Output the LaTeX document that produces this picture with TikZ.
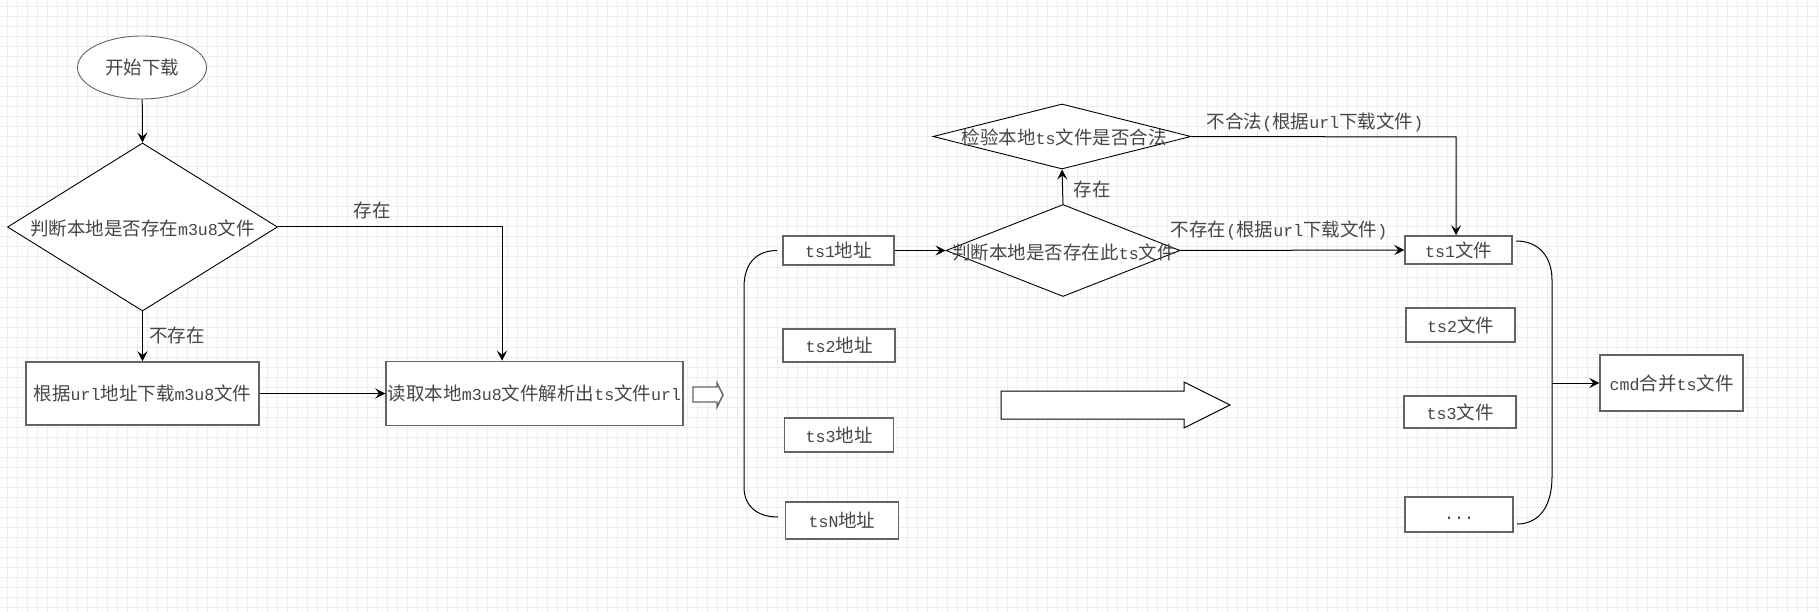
\documentclass[tikz,border=0pt]{standalone}
\usepackage{fontspec}
\setmainfont{Noto Sans CJK SC}
\newfontfamily\latf{Liberation Mono}[Scale=0.9]
\newcommand\la[1]{{\latf #1}}
\usetikzlibrary{shapes.geometric,arrows.meta}
\definecolor{txt}{RGB}{70,70,70}
\definecolor{gridc}{RGB}{238,238,238}
\definecolor{boxc}{RGB}{100,100,100}
\begin{document}
\begin{tikzpicture}[x=1pt,y=-1pt,
  every node/.style={font=\fontsize{18.5}{22}\selectfont, text=txt},
  box/.style={draw=boxc, line width=1.5pt, fill=white, inner sep=0pt, rectangle},
  dia/.style={draw=black, line width=0.9pt, fill=white, diamond, inner sep=0pt},
  ell/.style={draw=boxc, line width=0.9pt, fill=white, ellipse, inner sep=0pt},
  lbl/.style={inner sep=0pt},
  arr/.style={draw=black, line width=1pt, -{Stealth[length=10pt,width=10pt,inset=4pt]}},
  brk/.style={draw=black, line width=1pt},
  hollow/.style={fill=white, line width=1pt, line join=miter}
]
\fill[white] (0,0) rectangle (1819,612);
\useasboundingbox (0,0) rectangle (1819,612);
\foreach \x in {7,17,...,1817} \draw[gridc, line width=1pt] (\x,0) -- (\x,612);
\foreach \y in {7,17,...,607} \draw[gridc, line width=1pt] (0,\y) -- (1819,\y);

% left part
\node[ell, minimum width=129, minimum height=63] (start) at (142,67.5) {开始下载};
\node[dia, minimum width=270, minimum height=168] (d1) at (142.5,227) {};
\node[lbl] (d1t) at (142.5,228) {判断本地是否存在\la{m3u8}文件};
\node[box, minimum width=233, minimum height=63] (b1) at (142.5,393.5) {根据\la{url}地址下载\la{m3u8}文件};
\node[box, minimum width=297, minimum height=64] (b2) at (534.5,393.5) {读取本地\la{m3u8}文件解析出\la{ts}文件\la{url}};
\coordinate (c1) at (502,227);

\draw[arr] (start) -- (d1.north);
\draw[arr] (d1.east) -- (c1) -- (c1 |- b2.north);
\draw[arr] (d1.south) -- (d1.south |- b1.north);
\draw[arr] (b1.east) -- (b2.west);
\node[lbl] (l1) at (372,210) {存在};
\node[lbl] (l2) at (177,335) {不存在};

% small hollow arrow
\draw[hollow, draw=boxc, line width=1.4pt] (693,387) -- (717,387) -- (717,383) -- (723,395) -- (717,407) -- (717,402) -- (693,402) -- cycle;

% ts address boxes
\node[box, minimum width=111, minimum height=29] (ts1a) at (838.5,250.5) {\la{ts1}地址};
\node[box, minimum width=112, minimum height=33] (ts2a) at (839,345.5) {\la{ts2}地址};
\node[box, minimum width=109, minimum height=34] (ts3a) at (839,435) {\la{ts3}地址};
\node[box, minimum width=113, minimum height=37] (tsna) at (842,520.5) {\la{tsN}地址};
\coordinate (lb1) at (777,250.5);
\coordinate (lb2) at (778,517);
\draw[brk] (lb1) .. controls (756,250.5) and (744,264) .. (744,287) -- (744,487) .. controls (744,505) and (756,517) .. (lb2);

% decision diamonds
\node[dia, minimum width=234, minimum height=92] (d2) at (1063,250.5) {};
\node[lbl] (d2t) at (1064,252) {判断本地是否存在此\la{ts}文件};
\node[dia, minimum width=258, minimum height=65] (d3) at (1062,136.5) {};
\node[lbl] (d3t) at (1064,137) {检验本地\la{ts}文件是否合法};

% big hollow arrow
\draw[hollow, draw=black] (1001,391) -- (1184,391) -- (1184,382) -- (1230,405) -- (1184,428) -- (1184,419) -- (1001,419) -- cycle;

% ts file boxes
\node[box, minimum width=107, minimum height=28] (ts1f) at (1458.5,250) {\la{ts1}文件};
\node[box, minimum width=109, minimum height=34] (ts2f) at (1460.5,325) {\la{ts2}文件};
\node[box, minimum width=112, minimum height=32] (ts3f) at (1460,412) {\la{ts3}文件};
\node[box, minimum width=108, minimum height=35] (tsdf) at (1459,514.5) {};
\node[lbl] (dots) at (1459,518) {\la{...}};
\node[box, minimum width=143, minimum height=56] (cmd) at (1671.5,383) {\la{cmd}合并\la{ts}文件};

\coordinate (c2) at (1456,137);
\draw[arr] (ts1a.east) -- (d2.west);
\draw[arr] (d2.north) -- (d3.south);
\draw[arr] (d3.east) -- (c2) -- (c2 |- ts1f.north);
\draw[arr] (d2.east) -- (ts1f.west);
\node[lbl] (l3) at (1092,189) {存在};
\node[lbl] (l4) at (1315,122) {不合法\la{(}根据\la{url}下载文件\la{)}};
\node[lbl] (l5) at (1279,230) {不存在\la{(}根据\la{url}下载文件\la{)}};

\coordinate (rb1) at (1516,241);
\coordinate (rb2) at (1517,524);
\coordinate (rb) at (1552,383);
\draw[brk] (rb1) .. controls (1540,241) and (1552,258) .. (1552,280) -- (1552,477) .. controls (1552,505) and (1540,524) .. (rb2);
\draw[arr] (rb) -- (cmd.west);
\end{tikzpicture}
\end{document}
